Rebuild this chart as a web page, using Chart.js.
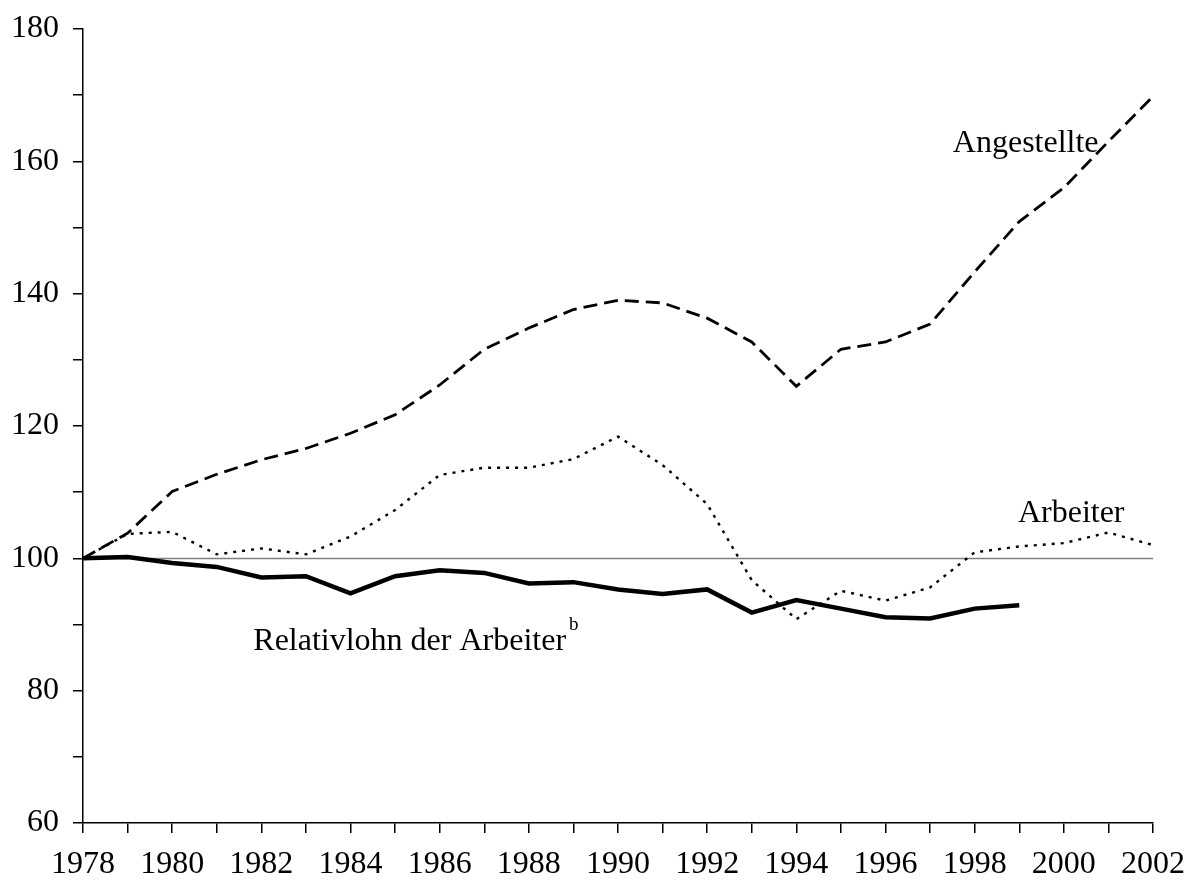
<!DOCTYPE html>
<html>
<head>
<meta charset="utf-8">
<script src="https://cdn.jsdelivr.net/npm/chart.js@4.4.1/dist/chart.umd.min.js"></script>
<style>
html,body{margin:0;padding:0;background:#fff;}
#wrap{width:1188px;height:887px;position:relative;}
</style>
</head>
<body>
<div id="wrap"><canvas id="c"></canvas></div>
<script>
const years = [1978,1979,1980,1981,1982,1983,1984,1985,1986,1987,1988,1989,1990,1991,1992,1993,1994,1995,1996,1997,1998,1999,2000,2001,2002];
const angestellte = [100,103.8,110.1,112.7,114.9,116.6,118.9,121.7,126.2,131.6,134.8,137.6,139.0,138.6,136.3,132.7,126.0,131.6,132.7,135.4,143.3,150.9,156.0,163.0,169.8];
const arbeiter = [100,103.7,104.0,100.6,101.5,100.6,103.3,107.3,112.6,113.7,113.7,115.0,118.4,114.1,108.2,96.7,90.8,95.1,93.6,95.6,100.9,101.8,102.3,103.9,102.0];
const relativlohnYears = [1978,1979,1980,1981,1982,1983,1984,1985,1986,1987,1988,1989,1990,1991,1992,1993,1994,1995,1996,1997,1998,1999];
const relativlohn = [100,100.2,99.3,98.7,97.1,97.3,94.7,97.3,98.2,97.8,96.2,96.4,95.3,94.6,95.3,91.8,93.7,92.4,91.1,90.9,92.4,92.9];
const referenceValue = 100;
const yTickLabels = [60,80,100,120,140,160,180];
const xTickLabels = [1978,1980,1982,1984,1986,1988,1990,1992,1994,1996,1998,2000,2002];

const toPts = (xs, ys) => ys.map((v,i)=>({x:xs[i], y:v}));
const FONT = '"Liberation Serif", "Times New Roman", serif';

const annotations = [
  {text:'Angestellte', x:1997.51, y:161.4},
  {text:'Arbeiter', x:1998.97, y:105.5},
  {text:'Relativlohn der Arbeiter', x:1981.82, y:86.1, sup:'b'}
];

const refLine = {
  id:'refLine',
  beforeDatasetsDraw(chart){
    const {ctx, scales:{x,y}} = chart;
    const py = Math.round(y.getPixelForValue(referenceValue)) + 0.5;
    ctx.save();
    ctx.strokeStyle = '#7f7f7f';
    ctx.lineWidth = 1.5;
    ctx.beginPath();
    ctx.moveTo(x.getPixelForValue(years[0]), py);
    ctx.lineTo(x.getPixelForValue(years[years.length-1]), py);
    ctx.stroke();
    ctx.restore();
  }
};

const labels = {
  id:'labels',
  afterDatasetsDraw(chart){
    const {ctx, scales:{x,y}} = chart;
    ctx.save();
    ctx.fillStyle = '#000';
    ctx.textBaseline = 'alphabetic';
    ctx.textAlign = 'left';
    annotations.forEach(a=>{
      ctx.font = '32px ' + FONT;
      const px = x.getPixelForValue(a.x), py = y.getPixelForValue(a.y);
      ctx.fillText(a.text, px, py);
      if (a.sup){
        const w = ctx.measureText(a.text).width;
        ctx.font = '19px ' + FONT;
        ctx.fillText(a.sup, px + w + 3, py - 20);
      }
    });
    ctx.restore();
  }
};

new Chart(document.getElementById('c'), {
  type:'line',
  data:{
    datasets:[
      {label:'Angestellte', data:toPts(years, angestellte), borderColor:'#000', borderWidth:2.8, borderDash:[14,7], pointRadius:0, tension:0, fill:false},
      {label:'Arbeiter', data:toPts(years, arbeiter), borderColor:'#000', borderWidth:2.4, borderDash:[3,6], pointRadius:0, tension:0, fill:false},
      {label:'Relativlohn', data:toPts(relativlohnYears, relativlohn), borderColor:'#000', borderWidth:4.5, pointRadius:0, tension:0, fill:false, borderJoinStyle:'miter'}
    ]
  },
  options:{
    responsive:true,
    maintainAspectRatio:false,
    animation:false,
    events:[],
    layout:{padding:{top:29,right:35,left:0,bottom:0}},
    plugins:{legend:{display:false}, tooltip:{enabled:false}},
    scales:{
      x:{
        type:'linear', min:years[0], max:years[years.length-1],
        afterBuildTicks(scale){ scale.ticks = years.map(v=>({value:v})); },
        afterFit(scale){ scale.height = 64; scale.paddingLeft = 0; scale.paddingRight = 0; },
        grid:{drawOnChartArea:false, drawTicks:true, tickLength:10, color:'#000', lineWidth:1.5},
        border:{display:true, color:'#000', width:1.5},
        ticks:{
          autoSkip:false, maxRotation:0, color:'#000', padding:12,
          font:{family:FONT, size:32},
          callback:(v)=> xTickLabels.includes(v) ? String(v) : ''
        }
      },
      y:{
        min:60, max:180,
        afterBuildTicks(scale){ const t=[]; for(let v=60; v<=180; v+=10) t.push({value:v}); scale.ticks=t; },
        afterFit(scale){ scale.width = 83; scale.paddingTop = 0; scale.paddingBottom = 0; },
        grid:{drawOnChartArea:false, drawTicks:true, tickLength:10, color:'#000', lineWidth:1.5},
        border:{display:true, color:'#000', width:1.5},
        ticks:{
          autoSkip:false, color:'#000', padding:14,
          font:{family:FONT, size:32},
          callback:(v)=> yTickLabels.includes(v) ? String(v) : ''
        }
      }
    }
  },
  plugins:[refLine, labels]
});
</script>
</body>
</html>
